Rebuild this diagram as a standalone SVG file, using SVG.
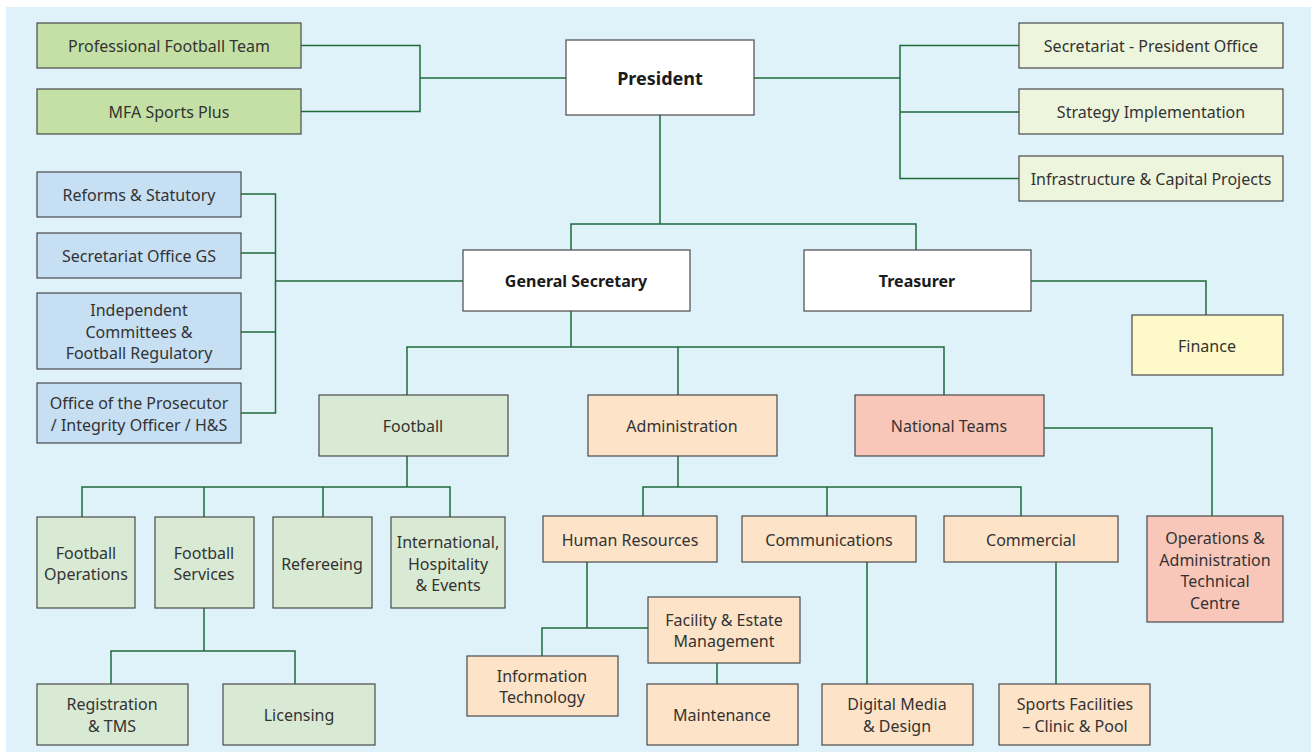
<svg xmlns="http://www.w3.org/2000/svg" width="1311" height="752" viewBox="0 0 1311 752">
<style>
.bg{fill:#dff2fa}
rect.n{stroke:#4a4a4a;stroke-width:1.2}
.t{font-family:"Noto Sans","Open Sans",sans-serif;font-size:16px;fill:#333;text-anchor:middle;transform:translateY(1px)}
.b{font-weight:bold;fill:#1a1a1a}
.w{fill:#ffffff}
.g1{fill:#c5e0a5}
.g2{fill:#eef5dd}
.bl{fill:#c6dff3}
.fg{fill:#d9ead4}
.pe{fill:#fde3c7}
.nt{fill:#f9c7b9}
.ye{fill:#fdf9c9}
.c{fill:none;stroke:#1f6b3a;stroke-width:1.5}
</style>
<rect class="bg" x="6" y="7" width="1305" height="745"/>
<g id="connectors">
<path class="c" d="M301,45.5H420V111.5H301M420,78H566"/>
<path class="c" d="M754,78H900M1019,45.5H900V178.5H1019M900,112H1019"/>
<path class="c" d="M660,115V224M571,250V224H916V250"/>
<path class="c" d="M1031,281H1206V315"/>
<path class="c" d="M241,194H275.5V413H241M241,253H275.5M241,332H275.5M275.5,281H463"/>
<path class="c" d="M571,311V347M407,395V347H944V395M678,347V395"/>
<path class="c" d="M407,456V487M82,517V487H450V517M204,487V517M323,487V517"/>
<path class="c" d="M204,608V651M111,684V651H295V684"/>
<path class="c" d="M678,456V487M643,516V487H1021V516M827,487V516"/>
<path class="c" d="M587,562V628H648M542,656V628H587M717,663V684"/>
<path class="c" d="M867,562V684M1056,562V684"/>
<path class="c" d="M1044,428H1212V516"/>
</g>
<g id="president"><rect class="n w" x="566" y="40" width="188" height="75"/><text class="t b" x="660" y="84" style="font-size:18px">President</text></g>
<g id="pro-team"><rect class="n g1" x="37" y="23" width="264" height="45"/><text class="t" x="169" y="51">Professional Football Team</text></g>
<g id="mfa"><rect class="n g1" x="37" y="89" width="264" height="45"/><text class="t" x="169" y="117">MFA Sports Plus</text></g>
<g id="sec-pres"><rect class="n g2" x="1019" y="23" width="264" height="45"/><text class="t" x="1151" y="51">Secretariat - President Office</text></g>
<g id="strategy"><rect class="n g2" x="1019" y="89" width="264" height="45"/><text class="t" x="1151" y="117">Strategy Implementation</text></g>
<g id="infra"><rect class="n g2" x="1019" y="156" width="264" height="45"/><text class="t" x="1151" y="184">Infrastructure &amp; Capital Projects</text></g>
<g id="gen-sec"><rect class="n w" x="463" y="250" width="227" height="61"/><text class="t b" x="576" y="286">General Secretary</text></g>
<g id="treasurer"><rect class="n w" x="804" y="250" width="227" height="61"/><text class="t b" x="917" y="286">Treasurer</text></g>
<g id="finance"><rect class="n ye" x="1132" y="315" width="151" height="60"/><text class="t" x="1207" y="351">Finance</text></g>
<g id="reforms"><rect class="n bl" x="37" y="172" width="204" height="45"/><text class="t" x="139" y="200">Reforms &amp; Statutory</text></g>
<g id="sec-gs"><rect class="n bl" x="37" y="233" width="204" height="45"/><text class="t" x="139" y="261">Secretariat Office GS</text></g>
<g id="independent"><rect class="n bl" x="37" y="293" width="204" height="76"/><text class="t" x="139" y="315">Independent</text><text class="t" x="139" y="337">Committees &amp;</text><text class="t" x="139" y="358">Football Regulatory</text></g>
<g id="prosecutor"><rect class="n bl" x="37" y="383" width="204" height="60"/><text class="t" x="139" y="408">Office of the Prosecutor</text><text class="t" x="139" y="430">/ Integrity Officer / H&amp;S</text></g>
<g id="football"><rect class="n fg" x="319" y="395" width="189" height="61"/><text class="t" x="413" y="431">Football</text></g>
<g id="administration"><rect class="n pe" x="588" y="395" width="189" height="61"/><text class="t" x="682" y="431">Administration</text></g>
<g id="national-teams"><rect class="n nt" x="855" y="395" width="189" height="61"/><text class="t" x="949" y="431">National Teams</text></g>
<g id="football-ops"><rect class="n fg" x="37" y="517" width="98" height="91"/><text class="t" x="86" y="558">Football</text><text class="t" x="86" y="579">Operations</text></g>
<g id="football-services"><rect class="n fg" x="155" y="517" width="99" height="91"/><text class="t" x="204" y="558">Football</text><text class="t" x="204" y="579">Services</text></g>
<g id="refereeing"><rect class="n fg" x="273" y="517" width="99" height="91"/><text class="t" x="322" y="569">Refereeing</text></g>
<g id="international"><rect class="n fg" x="391" y="517" width="114" height="91"/><text class="t" x="448" y="547">International,</text><text class="t" x="448" y="569">Hospitality</text><text class="t" x="448" y="590">&amp; Events</text></g>
<g id="registration"><rect class="n fg" x="37" y="684" width="151" height="61"/><text class="t" x="112" y="709">Registration</text><text class="t" x="112" y="731">&amp; TMS</text></g>
<g id="licensing"><rect class="n fg" x="223" y="684" width="152" height="61"/><text class="t" x="299" y="720">Licensing</text></g>
<g id="hr"><rect class="n pe" x="543" y="516" width="174" height="46"/><text class="t" x="630" y="545">Human Resources</text></g>
<g id="communications"><rect class="n pe" x="742" y="516" width="174" height="46"/><text class="t" x="829" y="545">Communications</text></g>
<g id="commercial"><rect class="n pe" x="944" y="516" width="174" height="46"/><text class="t" x="1031" y="545">Commercial</text></g>
<g id="ops-admin-tc"><rect class="n nt" x="1147" y="516" width="136" height="106"/><text class="t" x="1215" y="543">Operations &amp;</text><text class="t" x="1215" y="565">Administration</text><text class="t" x="1215" y="586">Technical</text><text class="t" x="1215" y="608">Centre</text></g>
<g id="facility"><rect class="n pe" x="648" y="597" width="152" height="66"/><text class="t" x="724" y="625">Facility &amp; Estate</text><text class="t" x="724" y="646">Management</text></g>
<g id="it"><rect class="n pe" x="467" y="656" width="151" height="60"/><text class="t" x="542" y="681">Information</text><text class="t" x="542" y="702">Technology</text></g>
<g id="maintenance"><rect class="n pe" x="647" y="684" width="151" height="61"/><text class="t" x="722" y="720">Maintenance</text></g>
<g id="digital-media"><rect class="n pe" x="822" y="684" width="151" height="61"/><text class="t" x="897" y="709">Digital Media</text><text class="t" x="897" y="731">&amp; Design</text></g>
<g id="sports-facilities"><rect class="n pe" x="999" y="684" width="151" height="61"/><text class="t" x="1075" y="709">Sports Facilities</text><text class="t" x="1075" y="731">– Clinic &amp; Pool</text></g>
</svg>
